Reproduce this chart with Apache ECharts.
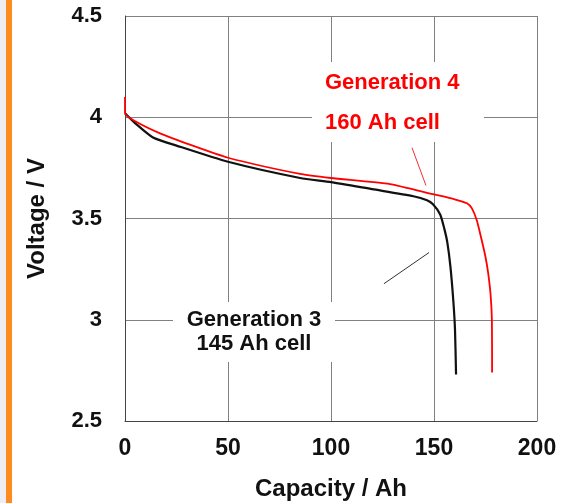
<!DOCTYPE html>
<html>
<head>
<meta charset="utf-8">
<script src="https://cdn.jsdelivr.net/npm/echarts@6/dist/echarts.min.js"></script>
<style>
  html, body { margin: 0; padding: 0; background: #fff; }
  #chart { width: 585px; height: 503px; }
</style>
</head>
<body>
<div id="chart"></div>
<script>
// Generation 3, 145 Ah cell (black)
var gen3Cap = [0, 5, 13.6, 25, 50, 85, 100, 120, 140, 146.6, 149.5, 153, 155, 156.5, 158, 159.4, 160.2, 160.7];
var gen3Volt = [4.02, 3.97, 3.90, 3.86, 3.78, 3.70, 3.68, 3.645, 3.61, 3.59, 3.57, 3.52, 3.45, 3.38, 3.26, 3.09, 2.95, 2.73];

// Generation 4, 160 Ah cell (red)
var gen4Cap = [0, 0, 5, 17, 30, 50, 85, 100, 128.6, 149.5, 160, 166, 168.4, 170.8, 173, 175, 176.3, 177.5, 178.1, 178.2];
var gen4Volt = [4.10, 4.02, 3.98, 3.92, 3.87, 3.80, 3.72, 3.70, 3.67, 3.62, 3.595, 3.575, 3.55, 3.49, 3.40, 3.31, 3.23, 3.12, 3.0, 2.74];

// pointer lines from the labels to the curves
var gen4PointerCap = [139.3, 146.1];
var gen4PointerVolt = [3.85, 3.663];
var gen3PointerCap = [125.7, 147.6];
var gen3PointerVolt = [3.178, 3.332];

var gen4Label = ['Generation 4', '160 Ah cell'];
var gen3Label = ['Generation 3', '145 Ah cell'];

function Pairs(aX, aY) {
    var aOut = [];
    for (var i = 0; i < aX.length; i++) {
        aOut.push([aX[i], aY[i]]);
    }
    return aOut;
}

var sFont = '"Liberation Sans", Arial, sans-serif';

var myChart = echarts.init(document.getElementById('chart'));

var jOption = {
    backgroundColor: '#ffffff',
    animation: false,
    // fixed plot box, no auto shrinking for labels
    grid: { left: 125, top: 16, right: 48, bottom: 82, outerBoundsMode: 'none', containLabel: false },
    xAxis: {
        type: 'value',
        min: 0, max: 200, interval: 50,
        name: 'Capacity / Ah',
        nameLocation: 'middle',
        nameGap: 56,
        nameTextStyle: { fontFamily: sFont, fontWeight: 'bold', fontSize: 24, color: '#111' },
        axisLine: { show: true, lineStyle: { color: '#444', width: 1 } },
        axisTick: { show: false },
        axisLabel: { margin: 16, fontFamily: sFont, fontWeight: 'bold', fontSize: 23, color: '#111' },
        splitLine: { show: true, lineStyle: { color: '#808080', width: 1 } }
    },
    yAxis: {
        type: 'value',
        min: 2.5, max: 4.5, interval: 0.5,
        name: 'Voltage / V',
        nameLocation: 'middle',
        nameGap: 76,
        nameTextStyle: { fontFamily: sFont, fontWeight: 'bold', fontSize: 24, color: '#111' },
        axisLine: { show: true, lineStyle: { color: '#444', width: 1 } },
        axisTick: { show: false },
        axisLabel: { margin: 23, fontFamily: sFont, fontWeight: 'bold', fontSize: 22, color: '#111' },
        splitLine: { show: true, lineStyle: { color: '#808080', width: 1 } }
    },
    graphic: [
        // left page edge strip
        { type: 'rect', shape: { x: 0, y: 0, width: 6, height: 503 }, style: { fill: '#ededf3' }, z: 1 },
        { type: 'rect', shape: { x: 6, y: 0, width: 6, height: 503 }, style: { fill: '#ff8a1e' }, z: 1 },
        // label boxes hide the grid
        { type: 'rect', shape: { x: 312, y: 62, width: 172, height: 80 }, style: { fill: '#ffffff' }, z: 5 },
        { type: 'rect', shape: { x: 173, y: 302, width: 162, height: 60 }, style: { fill: '#ffffff' }, z: 5 },
        { type: 'text', x: 325, y: 83, z: 6,
          style: { text: gen4Label[0], fill: '#ff0000', font: 'bold 22px ' + sFont, textVerticalAlign: 'middle' } },
        { type: 'text', x: 325, y: 123, z: 6,
          style: { text: gen4Label[1], fill: '#ff0000', font: 'bold 22px ' + sFont, textVerticalAlign: 'middle' } },
        { type: 'text', x: 254, y: 320, z: 6,
          style: { text: gen3Label[0], fill: '#111', font: 'bold 22px ' + sFont, textAlign: 'center', textVerticalAlign: 'middle' } },
        { type: 'text', x: 254, y: 344, z: 6,
          style: { text: gen3Label[1], fill: '#111', font: 'bold 22px ' + sFont, textAlign: 'center', textVerticalAlign: 'middle' } }
    ],
    series: [
        {
            name: 'Generation 3',
            type: 'line',
            data: Pairs(gen3Cap, gen3Volt),
            showSymbol: false, symbol: 'none',
            smooth: 0.2,
            lineStyle: { color: '#111', width: 2.2 },
            z: 3
        },
        {
            name: 'Generation 4',
            type: 'line',
            data: Pairs(gen4Cap, gen4Volt),
            showSymbol: false, symbol: 'none',
            smooth: 0.2,
            lineStyle: { color: '#ff0000', width: 1.8 },
            z: 4
        },
        {
            name: 'gen4 pointer',
            type: 'line',
            data: Pairs(gen4PointerCap, gen4PointerVolt),
            symbol: 'none',
            lineStyle: { color: '#f03030', width: 1 },
            silent: true
        },
        {
            name: 'gen3 pointer',
            type: 'line',
            data: Pairs(gen3PointerCap, gen3PointerVolt),
            symbol: 'none',
            lineStyle: { color: '#333', width: 1 },
            silent: true
        }
    ]
};

myChart.setOption(jOption);
</script>
</body>
</html>
